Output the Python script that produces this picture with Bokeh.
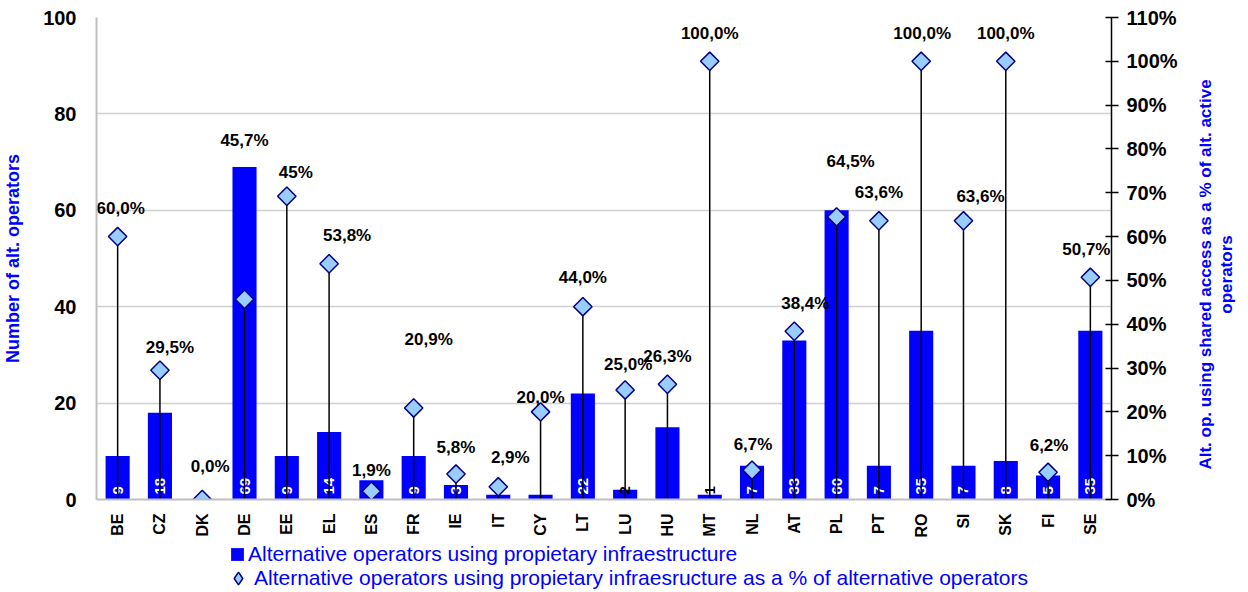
import math
from bokeh.plotting import figure
from bokeh.layouts import column, row
from bokeh.models import (Range1d, LinearAxis, SingleIntervalTicker, FixedTicker,
                          PrintfTickFormatter, ColumnDataSource, Legend, LegendItem)
from bokeh.core.properties import value
from bokeh.embed import file_html
from bokeh.resources import INLINE

# ---------------- data ----------------
countries = ["BE", "CZ", "DK", "DE", "EE", "EL", "ES", "FR", "IE", "IT", "CY", "LT",
             "LU", "HU", "MT", "NL", "AT", "PL", "PT", "RO", "SI", "SK", "FI", "SE"]
operators = [9, 18, 0, 69, 9, 14, 4, 9, 3, 1, 1, 22, 2, 15, 1, 7, 33, 60, 7, 35, 7, 8, 5, 35]
operator_labels = ["9", "18", "", "69", "9", "14", "4", "9", "3", "1", "1", "22",
                   "2", "", "1", "7", "33", "60", "7", "35", "7", "8", "5", "35"]
share_pct = [60.0, 29.5, 0.0, 45.7, 69.2, 53.8, 1.9, 20.9, 5.8, 2.9, 20.0, 44.0,
             25.0, 26.3, 100.0, 6.7, 38.4, 64.5, 63.6, 100.0, 63.6, 100.0, 6.2, 50.7]
share_labels = ["60,0%", "29,5%", "0,0%", "45,7%", "45%", "53,8%", "1,9%", "20,9%",
                "5,8%", "2,9%", "20,0%", "44,0%", "25,0%", "26,3%", "100,0%", "6,7%",
                "38,4%", "64,5%", "63,6%", "100,0%", "63,6%", "100,0%", "6,2%", "50,7%"]
left_title = "Number of alt. operators"
right_title = "Alt. op. using shared access as a % of alt. active\noperators"
legend_bar = "Alternative operators using propietary infraestructure"
legend_pct = "Alternative operators using propietary infraesructure as a % of alternative operators"

# ---------------- label placement (screen px offsets from the diamond) ----------------
label_dx = [3, 10, 8, 0, 9, 18, 0, 15, 0, 12, 0, 0, 3, 0, 0, 1, 11, 14, 0, 1, 17, 0, 1, -4]
label_dy = [-28, -23, -33, -159, -24, -28, -21, -68, -27, -29, -14, -29, -25, -28, -28,
            -26, -28, -55, -28, -28, -24, -28, -27, -28]
dark_bar_labels = {"LU", "MT"}

FONT = "Liberation Sans"
BLUE = "#0000FF"
DIA_FILL = "#99CCFF"
DIA_LINE = "#000080"

src = ColumnDataSource(dict(
    c=countries, n=operators, nlab=operator_labels,
    ncol=["black" if c in dark_bar_labels else "white" for c in countries],
    pct=share_pct, plab=share_labels, dx=label_dx, dy=label_dy,
    zero=[0] * len(countries),
))

B_LEFT, B_RIGHT, B_TOP, B_BOTTOM = 90, 88, 17, 43
FRAME_W, FRAME_H = 1015, 482
P_W = B_LEFT + FRAME_W + B_RIGHT
P_H = B_TOP + FRAME_H + B_BOTTOM

p = figure(x_range=countries, y_range=Range1d(0, 100),
           frame_width=FRAME_W, frame_height=FRAME_H,
           output_backend="svg", toolbar_location=None,
           min_border_left=B_LEFT, min_border_right=B_RIGHT,
           min_border_top=B_TOP, min_border_bottom=B_BOTTOM)
p.extra_y_ranges = {"pct": Range1d(0, 110)}
p.outline_line_color = None

# bars
p.vbar(x="c", top="n", width=0.57, source=src, fill_color=BLUE, line_color=None)

# bar value labels
p.text(x="c", y="zero", text="nlab", source=src, angle=math.pi / 2,
       text_align="left", text_baseline="middle", y_offset=-5,
       text_color="ncol", text_font_size="15px", text_font_style="bold",
       text_font=value(FONT))

# drop lines
p.segment(x0="c", y0="zero", x1="c", y1="pct", source=src, y_range_name="pct",
          line_color="black", line_width=1.5)

# diamonds
p.scatter(x="c", y="pct", source=src, y_range_name="pct", marker="square",
          angle=math.pi / 4, size=13, fill_color=DIA_FILL,
          line_color=DIA_LINE, line_width=1.5)

# percentage labels
p.text(x="c", y="pct", text="plab", source=src, y_range_name="pct",
       x_offset="dx", y_offset="dy", text_align="center", text_baseline="middle",
       text_color="black", text_font_size="17px", text_font_style="bold",
       text_font=value(FONT))

# axes
p.xaxis.major_label_orientation = math.pi / 2
p.xaxis.major_label_text_font = FONT
p.xaxis.major_label_text_font_style = "bold"
p.xaxis.major_label_text_font_size = "16px"
p.xaxis.major_label_text_color = "black"
p.xaxis.major_tick_line_color = None
p.xaxis.axis_line_color = "#BFBFBF"
p.xaxis.axis_line_width = 2
p.xaxis.major_label_standoff = 8

p.yaxis.ticker = SingleIntervalTicker(interval=20)
p.yaxis.major_tick_line_color = None
p.yaxis.minor_tick_line_color = None
p.yaxis.axis_line_color = "#BFBFBF"
p.yaxis.axis_line_width = 2
p.yaxis.major_label_text_font = FONT
p.yaxis.major_label_text_font_style = "bold"
p.yaxis.major_label_text_font_size = "20px"
p.yaxis.major_label_text_color = "black"
p.yaxis.major_label_standoff = 14
p.yaxis.axis_label = left_title
p.yaxis.axis_label_text_font = FONT
p.yaxis.axis_label_text_font_style = "bold"
p.yaxis.axis_label_text_font_size = "18px"
p.yaxis.axis_label_text_color = BLUE
p.yaxis.axis_label_standoff = 17

p.xgrid.grid_line_color = None
p.ygrid.ticker = FixedTicker(ticks=[20, 40, 60, 80])
p.ygrid.grid_line_color = "#D0D0D0"
p.ygrid.grid_line_width = 1.5

right = LinearAxis(y_range_name="pct", ticker=SingleIntervalTicker(interval=10),
                   formatter=PrintfTickFormatter(format="%d%%"))
right.axis_line_color = "black"
right.axis_line_width = 1.5
right.major_tick_line_color = "black"
right.major_tick_line_width = 1.5
right.major_tick_in = 6
right.major_tick_out = 7
right.minor_tick_line_color = None
right.major_label_text_font = FONT
right.major_label_text_font_style = "bold"
right.major_label_text_font_size = "20px"
right.major_label_text_color = "black"
right.major_label_standoff = 8
p.add_layout(right, "right")

# ---------------- right-hand axis title (own narrow strip) ----------------
tf = figure(width=1232 - P_W, height=P_H, x_range=Range1d(0, 1), y_range=Range1d(0, 1),
            output_backend="svg", toolbar_location=None,
            min_border_left=0, min_border_right=0, min_border_top=B_TOP,
            min_border_bottom=B_BOTTOM, x_axis_type=None, y_axis_type=None)
tf.outline_line_color = None
tf.grid.visible = False
tf.text(x=[0.5], y=[0.5], text=[right_title], angle=math.pi / 2,
        text_align="center", text_baseline="middle", y_offset=16, x_offset=-3,
        text_color=BLUE, text_font_size="17px", text_font_style="bold",
        text_font=value(FONT), text_line_height=1.1)

# ---------------- legend strip below the chart ----------------
lf = figure(width=1232, height=48, x_range=Range1d(0, 1), y_range=Range1d(0, 1),
            output_backend="svg", toolbar_location=None,
            min_border_left=B_LEFT, min_border_right=1232 - B_LEFT - FRAME_W,
            min_border_top=0, min_border_bottom=0,
            x_axis_type=None, y_axis_type=None)
lf.outline_line_color = None
lf.grid.visible = False
nan = float("nan")
r_bar = lf.vbar(x=[nan], top=[nan], width=0.5, fill_color=BLUE, line_color=None)
r_dia = lf.scatter(x=[nan], y=[nan], marker="diamond", size=13,
                   fill_color=DIA_FILL, line_color=DIA_LINE, line_width=1.5)
common = dict(padding=0, margin=0, border_line_color=None, background_fill_alpha=0,
              label_text_font=FONT, label_text_font_size="21px", label_text_color=BLUE)
leg1 = Legend(items=[LegendItem(label=legend_bar, renderers=[r_bar], index=0)],
              location=(139, 24), glyph_width=16, glyph_height=16, label_standoff=3,
              label_height=24, **common)
leg2 = Legend(items=[LegendItem(label=legend_pct, renderers=[r_dia], index=0)],
              location=(132, -4), glyph_width=32, glyph_height=32, label_standoff=0,
              label_height=24, **common)
lf.add_layout(leg1)
lf.add_layout(leg2)

layout = column(row(p, tf, spacing=0), lf, spacing=0)
open("out.html", "w").write(file_html(layout, INLINE))
